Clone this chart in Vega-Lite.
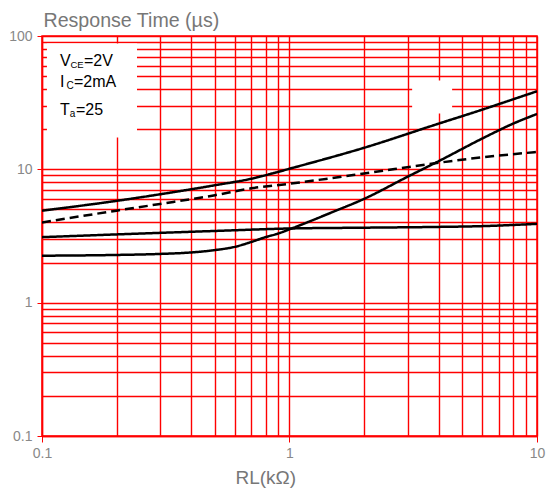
{
  "$schema": "https://vega.github.io/schema/vega-lite/v6.json",
  "width": 495,
  "height": 400,
  "autosize": {"type": "none"},
  "padding": {"left": 42, "top": 36, "right": 10, "bottom": 56},
  "background": "white",
  "config": {
    "view": {"stroke": "#ff0000", "strokeWidth": 1.5},
    "axis": {
      "grid": true,
      "gridColor": "#ff0000",
      "gridWidth": 1.4,
      "gridOpacity": 1,
      "domainColor": "#ff0000",
      "domainWidth": 1.4,
      "tickColor": "#ff0000",
      "labelColor": "#888888",
      "labelFont": "Liberation Sans",
      "labelFontSize": 14,
      "titleColor": "#777777",
      "titleFont": "Liberation Sans",
      "titleFontWeight": "normal"
    },
    "text": {"font": "Liberation Sans", "color": "black", "align": "left", "baseline": "alphabetic"}
  },
  "datasets": {
    "curves": [
      {"rl": 0.1, "t": 4.9, "series": "A"},
      {"rl": 0.2, "t": 5.8, "series": "A"},
      {"rl": 0.3, "t": 6.5, "series": "A"},
      {"rl": 0.5, "t": 7.6, "series": "A"},
      {"rl": 0.7, "t": 8.5, "series": "A"},
      {"rl": 0.85, "t": 9.3, "series": "A"},
      {"rl": 1, "t": 10.1, "series": "A"},
      {"rl": 2, "t": 14.5, "series": "A"},
      {"rl": 4, "t": 22, "series": "A"},
      {"rl": 6, "t": 28, "series": "A"},
      {"rl": 8, "t": 33.5, "series": "A"},
      {"rl": 10, "t": 38.5, "series": "A"},
      {"rl": 0.1, "t": 4.0, "series": "B"},
      {"rl": 0.2, "t": 4.9, "series": "B"},
      {"rl": 0.3, "t": 5.5, "series": "B"},
      {"rl": 0.5, "t": 6.4, "series": "B"},
      {"rl": 0.7, "t": 7.2, "series": "B"},
      {"rl": 1, "t": 7.8, "series": "B"},
      {"rl": 2, "t": 9.3, "series": "B"},
      {"rl": 4, "t": 11.2, "series": "B"},
      {"rl": 6, "t": 12.3, "series": "B"},
      {"rl": 10, "t": 13.5, "series": "B"},
      {"rl": 0.1, "t": 3.1, "series": "C"},
      {"rl": 0.2, "t": 3.25, "series": "C"},
      {"rl": 0.5, "t": 3.45, "series": "C"},
      {"rl": 1, "t": 3.6, "series": "C"},
      {"rl": 2, "t": 3.65, "series": "C"},
      {"rl": 4, "t": 3.7, "series": "C"},
      {"rl": 6, "t": 3.75, "series": "C"},
      {"rl": 10, "t": 3.9, "series": "C"},
      {"rl": 0.1, "t": 2.25, "series": "D"},
      {"rl": 0.2, "t": 2.28, "series": "D"},
      {"rl": 0.3, "t": 2.32, "series": "D"},
      {"rl": 0.4, "t": 2.38, "series": "D"},
      {"rl": 0.5, "t": 2.48, "series": "D"},
      {"rl": 0.6, "t": 2.62, "series": "D"},
      {"rl": 0.7, "t": 2.85, "series": "D"},
      {"rl": 0.8, "t": 3.1, "series": "D"},
      {"rl": 0.9, "t": 3.3, "series": "D"},
      {"rl": 1, "t": 3.55, "series": "D"},
      {"rl": 1.5, "t": 4.8, "series": "D"},
      {"rl": 2, "t": 6.0, "series": "D"},
      {"rl": 3, "t": 8.8, "series": "D"},
      {"rl": 4, "t": 11.5, "series": "D"},
      {"rl": 6, "t": 17, "series": "D"},
      {"rl": 8, "t": 22, "series": "D"},
      {"rl": 10, "t": 26, "series": "D"}
    ],
    "one": [{}]
  },
  "data": {"name": "one"},
  "encoding": {
    "x": {
      "type": "quantitative",
      "scale": {"type": "log", "domain": [0.1, 10], "nice": false},
      "axis": {
        "grid": true,
        "values": [0.1, 0.2, 0.3, 0.4, 0.5, 0.6, 0.7, 0.8, 0.9, 1, 2, 3, 4, 5, 6, 7, 8, 9, 10],
        "labelExpr": "indexof([0.1, 1, 10], datum.value) >= 0 ? format(datum.value, '~g') : ''",
        "tickSize": 6,
        "tickColor": {"condition": {"test": "indexof([0.1, 1, 10], datum.value) >= 0", "value": "#ff0000"}, "value": "transparent"},
        "labelPadding": 4,
        "labelFlush": false,
        "labelOverlap": false,
        "labelBound": false,
        "title": "RL(kΩ)",
        "titleFontSize": 19,
        "titleAlign": "left",
        "titleAnchor": "start",
        "titleX": 193,
        "titleY": 47,
        "titleBaseline": "alphabetic"
      }
    },
    "y": {
      "type": "quantitative",
      "scale": {"type": "log", "domain": [0.1, 100], "nice": false},
      "axis": {
        "grid": true,
        "values": [0.1, 0.2, 0.3, 0.4, 0.5, 0.6, 0.7, 0.8, 0.9, 1, 2, 3, 4, 5, 6, 7, 8, 9, 10, 20, 30, 40, 50, 60, 70, 80, 90, 100],
        "labelExpr": "indexof([0.1, 1, 10, 100], datum.value) >= 0 ? format(datum.value, '~g') : ''",
        "tickSize": 5,
        "tickColor": {"condition": {"test": "indexof([0.1, 1, 10, 100], datum.value) >= 0", "value": "#ff0000"}, "value": "transparent"},
        "labelPadding": 5,
        "labelOverlap": false,
        "labelBound": false,
        "labelFlush": false,
        "title": "Response Time (µs)",
        "titleFontSize": 19.6,
        "titleAngle": 0,
        "titleAlign": "left",
        "titleAnchor": "start",
        "titleX": 1,
        "titleY": -10,
        "titleBaseline": "alphabetic"
      }
    }
  },
  "layer": [
    {
      "mark": {"type": "rect", "color": "white"},
      "encoding": {
        "x": {"datum": 0.1047},
        "x2": {"datum": 0.242},
        "y": {"datum": 17.3},
        "y2": {"datum": 88}
      }
    },
    {
      "mark": {"type": "rect", "color": "white"},
      "encoding": {
        "x": {"datum": 3.13},
        "x2": {"datum": 4.54},
        "y": {"datum": 26.2},
        "y2": {"datum": 46.3}
      }
    },
    {
      "data": {"name": "curves"},
      "mark": {"type": "line", "color": "black", "strokeWidth": 2.5, "interpolate": "monotone", "clip": true},
      "encoding": {
        "x": {"field": "rl"},
        "y": {"field": "t"},
        "detail": {"field": "series"},
        "strokeDash": {
          "field": "series",
          "type": "nominal",
          "scale": {"domain": ["A", "B", "C", "D"], "range": [[1, 0], [9, 5], [1, 0], [1, 0]]},
          "legend": null
        }
      }
    },
    {
      "mark": {"type": "text", "text": "V", "fontSize": 16},
      "encoding": {"x": {"datum": 0.1182}, "y": {"datum": 60}}
    },
    {
      "mark": {"type": "text", "text": "CE", "fontSize": 9.5, "dx": 10.5, "dy": 2},
      "encoding": {"x": {"datum": 0.1182}, "y": {"datum": 60}}
    },
    {
      "mark": {"type": "text", "text": "=2V", "fontSize": 16, "dx": 24},
      "encoding": {"x": {"datum": 0.1182}, "y": {"datum": 60}}
    },
    {
      "mark": {"type": "text", "text": "I", "fontSize": 16},
      "encoding": {"x": {"datum": 0.1182}, "y": {"datum": 41.2}}
    },
    {
      "mark": {"type": "text", "text": "C", "fontSize": 10, "dx": 6.5, "dy": 2},
      "encoding": {"x": {"datum": 0.1182}, "y": {"datum": 41.2}}
    },
    {
      "mark": {"type": "text", "text": "=2mA", "fontSize": 16, "dx": 14},
      "encoding": {"x": {"datum": 0.1182}, "y": {"datum": 41.2}}
    },
    {
      "mark": {"type": "text", "text": "T", "fontSize": 16},
      "encoding": {"x": {"datum": 0.1182}, "y": {"datum": 25.7}}
    },
    {
      "mark": {"type": "text", "text": "a", "fontSize": 10, "dx": 9.8, "dy": 2},
      "encoding": {"x": {"datum": 0.1182}, "y": {"datum": 25.7}}
    },
    {
      "mark": {"type": "text", "text": "=25", "fontSize": 16, "dx": 16},
      "encoding": {"x": {"datum": 0.1182}, "y": {"datum": 25.7}}
    }
  ]
}
